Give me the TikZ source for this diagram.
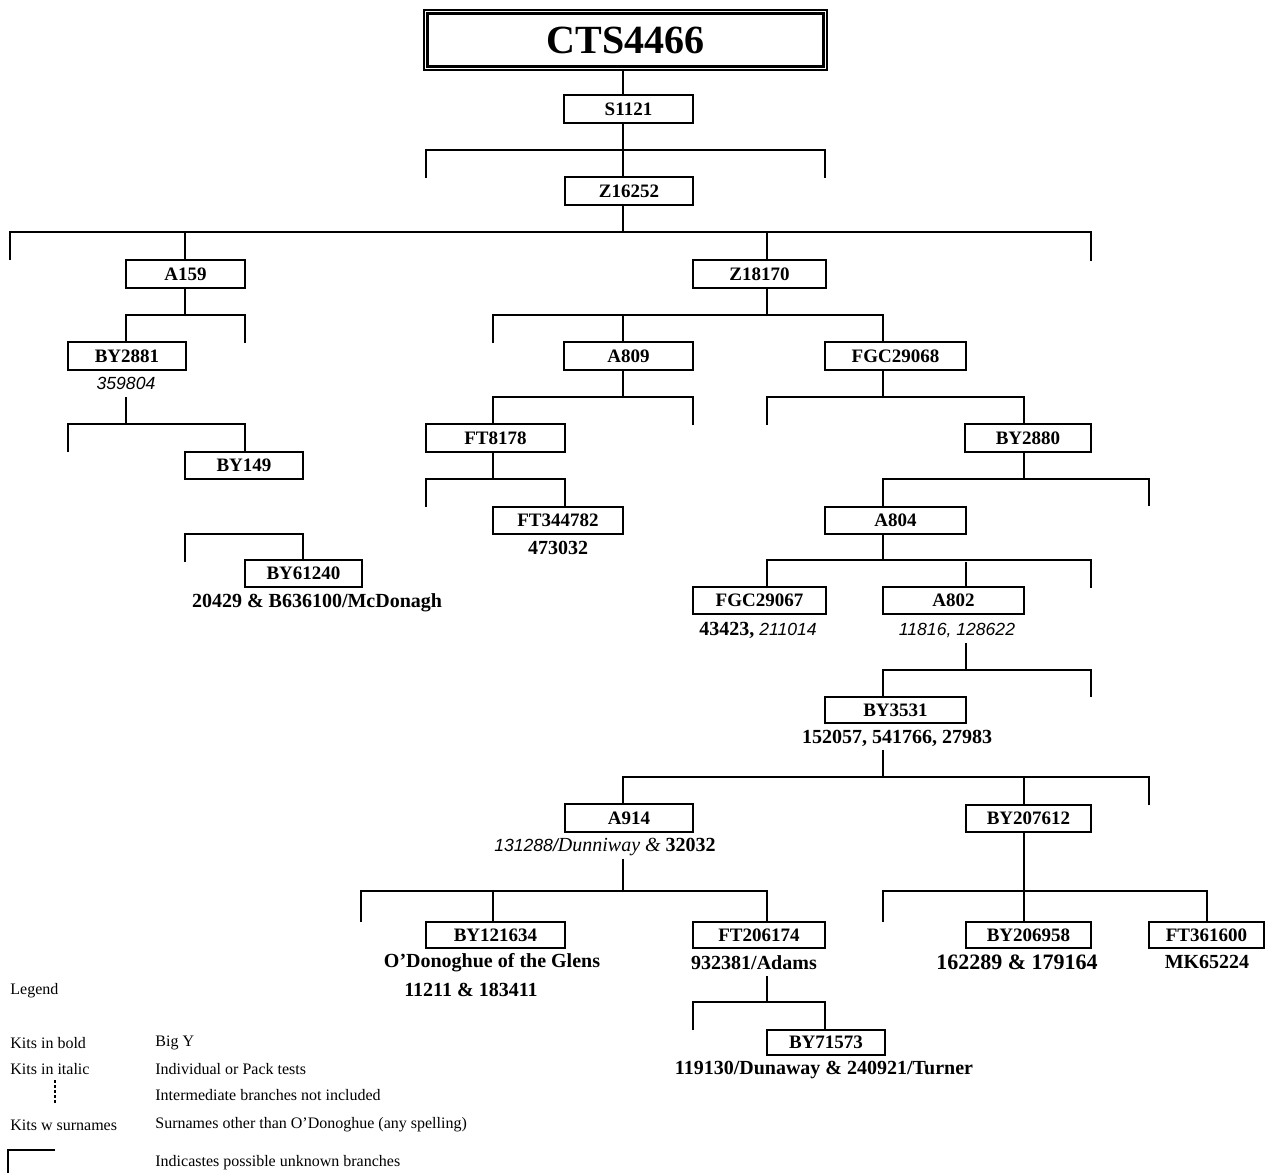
\documentclass[tikz,border=0pt]{standalone}
\usepackage{fontspec}
\setmainfont{Liberation Serif}
\newfontfamily\sansit{Liberation Sans}
\newcommand\boxfnt{\fontsize{9.5}{11}\selectfont\bfseries}
\newcommand\subfnt{\fontsize{10}{12}\selectfont\bfseries}
\newcommand\legfnt{\fontsize{8}{10}\selectfont}
\newcommand\itnum{\sansit\itshape\mdseries\fontsize{8.8}{11}\selectfont}
\newcommand\kbox[6]{\node[kbox,minimum width={(#4-#2)*0.5pt},minimum height={(#5-#3)*0.5pt}] (#1) at ({(#2+#4)/2},{(#3+#5)/2}) {#6};}
\tikzset{
  kbox/.style={draw, line width=0.8pt, inner sep=0pt, font=\boxfnt},
  conn/.style={line width=0.8pt},
  sub/.style={inner sep=0pt, font=\subfnt},
  leg/.style={inner sep=0pt, anchor=west, font=\legfnt}
}
\begin{document}
\begin{tikzpicture}[x=0.5pt,y=-0.5pt]
\useasboundingbox (0,0) rectangle (1265,1173);
% title
\node[draw, line width=0.6pt, minimum width={403*0.5pt}, minimum height={60*0.5pt}, inner sep=0pt] (titleo) at (625.5,40) {};
\node[draw, line width=1.2pt, minimum width={396*0.5pt}, minimum height={53*0.5pt}, inner sep=0pt, font=\fontsize{20}{24}\selectfont\bfseries] (title) at (625.5,40) {CTS4466};
% boxes
\kbox{S1121}{564}{95}{693}{123}{S1121}
\kbox{Z16252}{565}{177}{693}{205}{Z16252}
\kbox{A159}{126}{260}{245}{288}{A159}
\kbox{Z18170}{693}{260}{826}{288}{Z18170}
\kbox{BY2881}{68}{342}{186}{370}{BY2881}
\kbox{A809}{564}{342}{693}{370}{A809}
\kbox{FGC29068}{825}{342}{966}{370}{FGC29068}
\kbox{BY149}{185}{452}{303}{479}{BY149}
\kbox{FT8178}{426}{424}{565}{452}{FT8178}
\kbox{BY2880}{965}{424}{1091}{452}{BY2880}
\kbox{BY61240}{245}{560}{362}{587}{BY61240}
\kbox{FT344782}{493}{507}{623}{534}{FT344782}
\kbox{A804}{825}{507}{966}{534}{A804}
\kbox{FGC29067}{693}{587}{826}{614}{FGC29067}
\kbox{A802}{883}{587}{1024}{614}{A802}
\kbox{BY3531}{825}{697}{966}{723}{BY3531}
\kbox{A914}{565}{804}{693}{832}{A914}
\kbox{BY207612}{966}{805}{1091}{832}{BY207612}
\kbox{BY121634}{426}{922}{565}{948}{BY121634}
\kbox{FT206174}{693}{922}{825}{948}{FT206174}
\kbox{BY206958}{966}{922}{1091}{948}{BY206958}
\kbox{FT361600}{1149}{922}{1264}{948}{FT361600}
\kbox{BY71573}{767}{1030}{885}{1055}{BY71573}
% sub labels
\node[sub] (l2881) at (126,383) {\itnum 359804};
\node[sub] (l61240) at (317,603) {20429 \& B636100/McDonagh};
\node[sub] (l344782) at (558,548) {473032};
\node[sub] (l29067) at (758,630) {43423, {\itnum 211014}};
\node[sub] (l802) at (957,630) {\itnum 11816, 128622};
\node[sub] (l3531) at (897,738) {152057, 541766, 27983};
\node[sub] (l914) at (605,847) {{\itnum 131288/}{\itshape\mdseries Dunniway \&} 32032};
\node[sub] (l121634a) at (492,963) {O'Donoghue of the Glens};
\node[sub] (l121634b) at (471,990) {11211 \& 183411};
\node[sub] (l206174) at (754,963) {932381/Adams};
\node[sub] (l71573) at (824,1070) {119130/Dunaway \& 240921/Turner};
\node[sub, font=\fontsize{11}{13}\selectfont\bfseries] (l206958) at (1017,962) {162289 \& 179164};
\node[sub] (l361600) at (1207,962) {MK65224};
% connectors
\coordinate (b1) at (623,150);
\draw[conn] (titleo.south -| b1) -- (S1121.north -| b1);
\draw[conn] (S1121.south -| b1) -- (Z16252.north -| b1);
\coordinate (b1l) at (426,150); \coordinate (s1l) at (426,178);
\coordinate (b1r) at (825,150); \coordinate (s1r) at (825,178);
\draw[conn] (s1l) -- (b1l) -- (b1r) -- (s1r);
% B2
\coordinate (b2) at (623,232);
\draw[conn] (Z16252.south -| b2) -- (b2);
\coordinate (s2a) at (10,260); \coordinate (s2b) at (1091,261);
\draw[conn] (s2a) -- (s2a |- b2) -- (s2b |- b2) -- (s2b);
\coordinate (b2a) at (185,232); \coordinate (b2b) at (767,232);
\draw[conn] (b2a) -- (A159.north -| b2a);
\draw[conn] (b2b) -- (Z18170.north -| b2b);
% B3
\coordinate (b3) at (185,315);
\draw[conn] (A159.south -| b3) -- (b3);
\coordinate (b3l) at (126,315); \coordinate (b3r) at (245,315); \coordinate (s3) at (245,343);
\draw[conn] (BY2881.north -| b3l) -- (b3l) -- (b3r) -- (s3);
% B4
\coordinate (t4) at (126,397); \coordinate (b4) at (126,424);
\draw[conn] (t4) -- (b4);
\coordinate (b4l) at (68,424); \coordinate (s4) at (68,452); \coordinate (b4r) at (245,424);
\draw[conn] (s4) -- (b4l) -- (b4r) -- (BY149.north -| b4r);
% B5
\coordinate (b5l) at (185,534); \coordinate (s5) at (185,562); \coordinate (b5r) at (303,534);
\draw[conn] (s5) -- (b5l) -- (b5r) -- (BY61240.north -| b5r);
% B6
\coordinate (b6) at (767,315);
\draw[conn] (Z18170.south -| b6) -- (b6);
\coordinate (b6l) at (493,315); \coordinate (s6) at (493,343);
\coordinate (b6m) at (623,315); \coordinate (b6r) at (883,315);
\draw[conn] (s6) -- (b6l) -- (b6r) -- (FGC29068.north -| b6r);
\draw[conn] (b6m) -- (A809.north -| b6m);
% B7
\coordinate (b7) at (623,397);
\draw[conn] (A809.south -| b7) -- (b7);
\coordinate (b7l) at (493,397); \coordinate (b7r) at (693,397); \coordinate (s7) at (693,425);
\draw[conn] (FT8178.north -| b7l) -- (b7l) -- (b7r) -- (s7);
% B8
\coordinate (b8) at (493,479);
\draw[conn] (FT8178.south -| b8) -- (b8);
\coordinate (b8l) at (426,479); \coordinate (s8) at (426,507); \coordinate (b8r) at (565,479);
\draw[conn] (s8) -- (b8l) -- (b8r) -- (FT344782.north -| b8r);
% B9
\coordinate (b9) at (883,397);
\draw[conn] (FGC29068.south -| b9) -- (b9);
\coordinate (b9l) at (767,397); \coordinate (s9) at (767,425); \coordinate (b9r) at (1024,397);
\draw[conn] (s9) -- (b9l) -- (b9r) -- (BY2880.north -| b9r);
% B10
\coordinate (b10) at (1024,479);
\draw[conn] (BY2880.south -| b10) -- (b10);
\coordinate (b10l) at (883,479); \coordinate (b10r) at (1149,479); \coordinate (s10) at (1149,506);
\draw[conn] (A804.north -| b10l) -- (b10l) -- (b10r) -- (s10);
% B11
\coordinate (b11) at (883,560);
\draw[conn] (A804.south -| b11) -- (b11);
\coordinate (b11l) at (767,560); \coordinate (b11r) at (1091,560); \coordinate (s11) at (1091,588);
\coordinate (b11m) at (966,562);
\draw[conn] (FGC29067.north -| b11l) -- (b11l) -- (b11r) -- (s11);
\draw[conn] (b11m) -- (A802.north -| b11m);
% B12
\coordinate (t12) at (966,643); \coordinate (b12) at (966,670);
\draw[conn] (t12) -- (b12);
\coordinate (b12l) at (883,670); \coordinate (b12r) at (1091,670); \coordinate (s12) at (1091,697);
\draw[conn] (BY3531.north -| b12l) -- (b12l) -- (b12r) -- (s12);
% B13
\coordinate (t13) at (883,750); \coordinate (b13) at (883,777);
\draw[conn] (t13) -- (b13);
\coordinate (b13l) at (623,777); \coordinate (b13m) at (1024,777);
\coordinate (b13r) at (1149,777); \coordinate (s13) at (1149,805);
\draw[conn] (A914.north -| b13l) -- (b13l) -- (b13r) -- (s13);
\draw[conn] (b13m) -- (BY207612.north -| b13m);
% B14
\coordinate (t14) at (623,859); \coordinate (b14) at (623,891);
\draw[conn] (t14) -- (b14);
\coordinate (b14l) at (361,891); \coordinate (s14) at (361,922);
\coordinate (b14m) at (493,891); \coordinate (b14r) at (767,891);
\draw[conn] (s14) -- (b14l) -- (b14r) -- (FT206174.north -| b14r);
\draw[conn] (b14m) -- (BY121634.north -| b14m);
% B15
\coordinate (b15) at (1024,891);
\draw[conn] (BY207612.south -| b15) -- (b15);
\coordinate (b15l) at (883,891); \coordinate (s15) at (883,922); \coordinate (b15r) at (1207,891);
\draw[conn] (s15) -- (b15l) -- (b15r) -- (FT361600.north -| b15r);
\draw[conn] (b15) -- (BY206958.north -| b15);
% B16
\coordinate (t16) at (767,976); \coordinate (b16) at (767,1002);
\draw[conn] (t16) -- (b16);
\coordinate (b16l) at (693,1002); \coordinate (s16) at (693,1030); \coordinate (b16r) at (825,1002);
\draw[conn] (s16) -- (b16l) -- (b16r) -- (BY71573.north -| b16r);
% legend
\node[leg] (lg0) at (10,991) {Legend};
\node[leg] (lg1) at (10,1043) {Kits in bold};
\node[leg] (lg2) at (10,1069) {Kits in italic};
\node[leg] (lg4) at (10,1125) {Kits w surnames};
\node[leg] (ld1) at (155,1043) {Big Y};
\node[leg] (ld2) at (155,1069) {Individual or Pack tests};
\node[leg] (ld3) at (155,1095) {Intermediate branches not included};
\node[leg] (ld4) at (155,1125) {Surnames other than O'Donoghue (any spelling)};
\node[leg] (ld5) at (155,1163) {Indicastes possible unknown branches};
\coordinate (dt1) at (55,1080); \coordinate (dt2) at (55,1105);
\draw[line width=0.6pt, dash pattern=on 1.5pt off 1pt] (dt1) -- (dt2);
\coordinate (lb1) at (55,1150); \coordinate (lb2) at (8,1150); \coordinate (lb3) at (8,1173);
\draw[conn] (lb1) -- (lb2) -- (lb3);
\end{tikzpicture}
\end{document}
